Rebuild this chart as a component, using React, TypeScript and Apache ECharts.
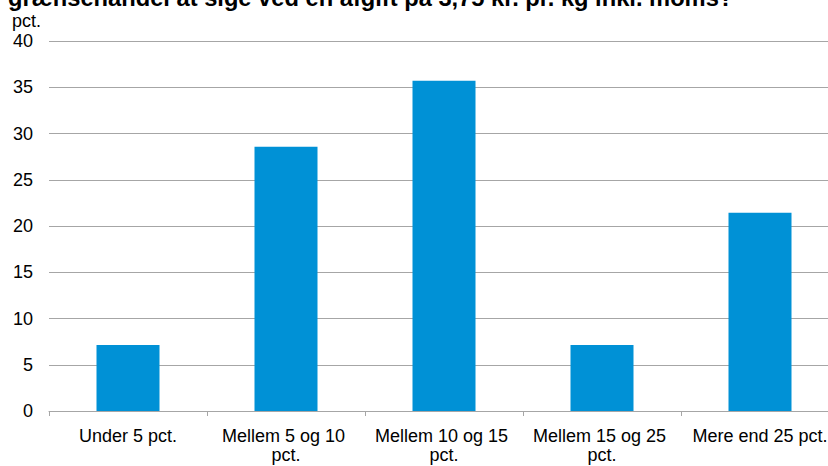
import React, { useEffect, useRef } from "react";
import * as echarts from "echarts";

const titleText = "grænsehandel at sige ved en afgift på 3,75 kr. pr. kg inkl. moms?";
const unitLabel = "pct.";
const categories = [
  "Under 5 pct.",
  "Mellem 5 og 10 pct.",
  "Mellem 10 og 15 pct.",
  "Mellem 15 og 25 pct.",
  "Mere end 25 pct.",
];
const values = [7.14, 28.57, 35.71, 7.14, 21.43];
const yTicks = { min: 0, max: 40, interval: 5 };

export default function App() {
  const ref = useRef<HTMLDivElement>(null);
  useEffect(() => {
    if (!ref.current) return;
    const chart = echarts.init(ref.current, null, { renderer: "svg" });
    const font = "Arial, 'Liberation Sans', sans-serif";
    chart.setOption({
      animation: false,
      backgroundColor: "#ffffff",
      textStyle: { fontFamily: font },
      graphic: [
        {
          type: "text",
          left: 8,
          top: -14,
          style: {
            text: titleText,
            font: `bold 23.7px ${font}`,
            fill: "#000000",
          },
        },
        {
          type: "text",
          left: 12,
          top: 12,
          style: {
            text: unitLabel,
            font: `18px ${font}`,
            fill: "#000000",
          },
        },
      ],
      grid: { left: 49, top: 41, bottom: 55, right: 11, containLabel: false },
      xAxis: {
        type: "category",
        data: categories,
        boundaryGap: true,
        axisLine: { show: true, lineStyle: { color: "#a6a6a6", width: 1 } },
        axisTick: { show: true, length: 5, alignWithLabel: false, lineStyle: { color: "#a6a6a6" } },
        axisLabel: {
          color: "#000000",
          fontSize: 18,
          fontFamily: font,
          margin: 15,
          interval: 0,
          width: 150,
          overflow: "break",
          lineHeight: 19,
        },
        splitLine: { show: false },
      },
      yAxis: {
        type: "value",
        min: yTicks.min,
        max: yTicks.max,
        interval: yTicks.interval,
        axisLine: { show: false },
        axisTick: { show: false },
        axisLabel: { color: "#000000", fontSize: 18, fontFamily: font, margin: 16 },
        splitLine: { show: true, lineStyle: { color: "#a6a6a6", width: 1 } },
      },
      series: [
        {
          type: "bar",
          data: values,
          barWidth: 63,
          itemStyle: { color: "#0091d6" },
        },
      ],
    });
    return () => chart.dispose();
  }, []);
  return (
    <div style={{ position: "absolute", left: 0, top: 0, width: 828, height: 466, overflow: "hidden" }}>
      <div ref={ref} style={{ width: 850, height: 466 }} />
    </div>
  );
}
